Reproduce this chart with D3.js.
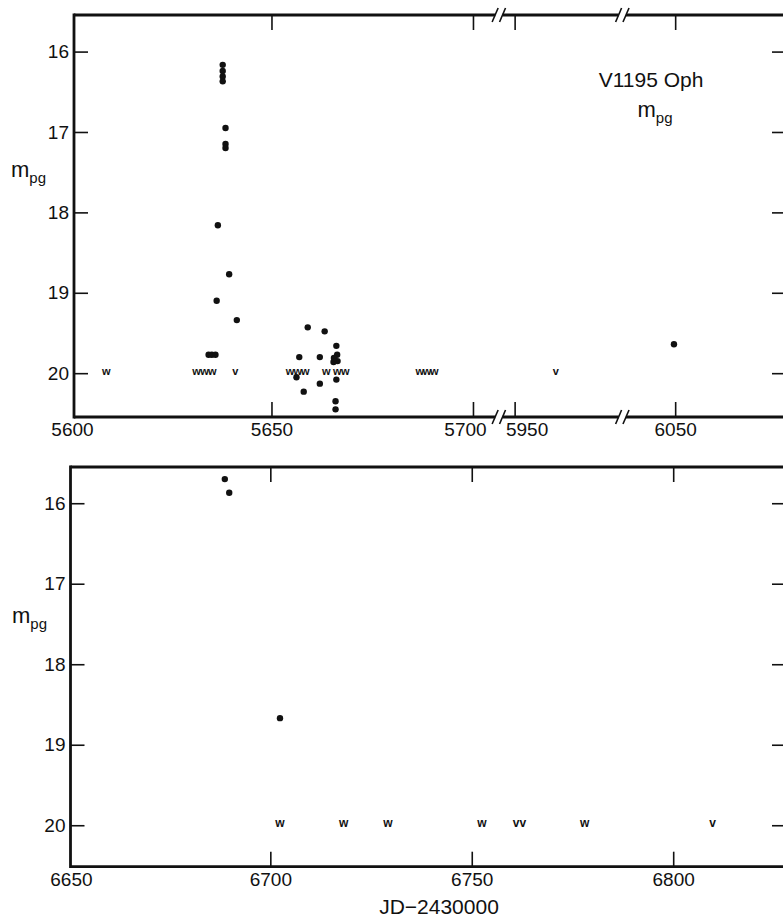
<!DOCTYPE html>
<html>
<head>
<meta charset="utf-8">
<script src="https://cdn.jsdelivr.net/npm/d3@7"></script>
<style>
  body { margin: 0; background: #fff; }
  svg { display: block; }
</style>
</head>
<body>
<div class="chart"></div>
<script>
// ---------------------------//
//       DATA                 //
// ---------------------------//

// upper panel: JD-2430000 broken into three pieces
const topSegments = [[5601, 5705.5], [5947, 5975.8], [6037.8, 6077.5]];
const topTicks = [5600, 5650, 5700, 5950, 6050];

// detections (filled dots)
const topDotJD = [5637.9, 5637.9, 5637.9, 5637.9, 5638.6, 5638.6, 5638.6,
  5636.7, 5639.5, 5636.4, 5641.4, 5634.4, 5635.2, 5636.1,
  5659.0, 5663.2, 5666.1, 5656.9, 5662.0, 5666.3, 5665.5, 5666.4, 5665.4,
  5656.2, 5662.0, 5658.0, 5666.1, 5665.9, 5665.9, 6049.7];
const topDotMag = [16.165, 16.24, 16.31, 16.37, 16.95, 17.15, 17.2,
  18.16, 18.77, 19.1, 19.34, 19.77, 19.77, 19.77,
  19.43, 19.48, 19.66, 19.8, 19.8, 19.77, 19.81, 19.85, 19.86,
  20.05, 20.13, 20.23, 20.08, 20.35, 20.45, 19.64];

// fainter-than plates (symbols)
const topLimJD = [5609.0, 5631.4, 5633.4, 5635.3, 5641.0,
  5654.6, 5656.5, 5658.4, 5663.6, 5666.3, 5668.3,
  5686.8, 5688.6, 5690.4, 5960.2];
const topLimSym = ["w", "w", "w", "w", "v",
  "w", "w", "w", "w", "w", "w",
  "w", "w", "w", "v"];
const topLimMag = [20, 20, 20, 20, 20, 20, 20, 20, 20, 20, 20, 20, 20, 20, 20];

// lower panel
const botDomain = [6650.4, 6828];
const botTicks = [6650, 6700, 6750, 6800];
const botDotJD = [6688.7, 6689.8, 6702.4];
const botDotMag = [15.7, 15.87, 18.67];
const botLimJD = [6702.4, 6718.2, 6729.2, 6752.5, 6761.0, 6762.7, 6778.0, 6809.8];
const botLimSym = ["w", "w", "w", "w", "v", "v", "w", "v"];
const botLimMag = [20, 20, 20, 20, 20, 20, 20, 20];

const magTicks = [16, 17, 18, 19, 20];

// ---------------------------//
//       SETUP                //
// ---------------------------//
const W = 783, H = 919;
const font = "'Liberation Sans', Arial, Helvetica, sans-serif";
const ink = "#111";

var svg = d3.select(".chart").append("svg")
  .attr("width", W).attr("height", H)
  .style("font-family", font);

const P1 = { left: 74, right: 786, top: 15, bottom: 417 };
const P2 = { left: 70.5, right: 786, top: 467, bottom: 866.7 };

// broken x scale for top panel (same px-per-day in every piece)
const gap = 7.4;
const k = 4.03;
var dom = [], rng = [];
var cursor = P1.left;
topSegments.forEach((s, i) => {
  if (i) cursor += gap;
  dom.push(s[0], s[1]);
  rng.push(cursor, cursor + (s[1] - s[0]) * k);
  cursor += (s[1] - s[0]) * k;
});
var x1 = d3.scaleLinear().domain(dom).range(rng);
var y1 = d3.scaleLinear().domain([15.545, 20.545]).range([P1.top, P1.bottom]);

var x2 = d3.scaleLinear().domain(botDomain).range([P2.left, P2.right]);
var y2 = d3.scaleLinear().domain([15.55, 20.515]).range([P2.top, P2.bottom]);

const fmt = d3.format("d");

// ---------------------------//
//       AXES                 //
// ---------------------------//
function styleAxis(g) {
  g.select(".domain").remove();
  g.attr("font-family", font).attr("font-size", 19);
  g.selectAll("line").attr("stroke", ink).attr("stroke-width", 1.6);
  g.selectAll("text").attr("fill", ink);
}

function drawPanel(P, x, y, ticks, firstTick, pieces) {
  // bottom ticks + labels
  var gb = svg.append("g")
    .attr("transform", "translate(0," + P.bottom + ")")
    .call(d3.axisBottom(x).tickValues(ticks).tickFormat(fmt).tickSize(-15).tickPadding(6))
    .call(styleAxis);
  gb.selectAll(".tick").filter(d => d === firstTick).select("line").remove();
  gb.selectAll(".tick text").attr("dx", d => d === 5700 ? -8 : d === 5950 ? 12 : d === firstTick ? 2 : 0);

  // top ticks
  svg.append("g")
    .attr("transform", "translate(0," + P.top + ")")
    .call(d3.axisTop(x).tickValues(ticks.filter(d => d !== firstTick)).tickSize(-15).tickFormat(""))
    .call(styleAxis);

  // left ticks + labels
  svg.append("g")
    .attr("transform", "translate(" + P.left + ",0)")
    .call(d3.axisLeft(y).tickValues(magTicks).tickFormat(fmt).tickSize(-14).tickPadding(5))
    .call(styleAxis);

  // right ticks
  svg.append("g")
    .attr("transform", "translate(" + P.right + ",0)")
    .call(d3.axisRight(y).tickValues(magTicks).tickSize(-14).tickFormat(""))
    .call(styleAxis);

  // frame: left edge plus top/bottom pieces
  var frame = svg.append("g").attr("stroke", ink).attr("stroke-width", 2.8).attr("fill", "none");
  frame.append("line")
    .attr("x1", P.left).attr("x2", P.left)
    .attr("y1", P.top - 1.4).attr("y2", P.bottom + 1.4);
  pieces.forEach(seg => {
    [P.top, P.bottom].forEach(yy => {
      frame.append("line")
        .attr("x1", seg[0]).attr("x2", seg[1])
        .attr("y1", yy).attr("y2", yy);
    });
  });
  // break marks "//"
  pieces.forEach((seg, i) => {
    [seg[0], seg[1]].forEach((xx, j) => {
      if ((i === 0 && j === 0) || (i === pieces.length - 1 && j === 1)) return;
      [P.top, P.bottom].forEach(yy => {
        svg.append("line")
          .attr("x1", xx - 3).attr("y1", yy + 7)
          .attr("x2", xx + 3).attr("y2", yy - 7)
          .attr("stroke", ink).attr("stroke-width", 1.6);
      });
    });
  });
}

var topPieces = [];
for (var i = 0; i < rng.length; i += 2) topPieces.push([rng[i], rng[i + 1]]);
drawPanel(P1, x1, y1, topTicks, 5600, topPieces);
drawPanel(P2, x2, y2, botTicks, 6650, [[P2.left, P2.right]]);

// ---------------------------//
//       POINTS               //
// ---------------------------//
function drawPoints(x, y, jd, mag, limJD, limSym, limMag, symSize) {
  svg.append("g").selectAll("circle")
    .data(jd.map((d, i) => ({ jd: d, mag: mag[i] })))
    .enter().append("circle")
    .attr("cx", d => x(d.jd))
    .attr("cy", d => y(d.mag))
    .attr("r", 3.2)
    .attr("fill", ink);

  svg.append("g").selectAll("text")
    .data(limJD.map((d, i) => ({ jd: d, sym: limSym[i], mag: limMag[i] })))
    .enter().append("text")
    .attr("x", d => x(d.jd))
    .attr("y", d => y(d.mag) + 1.5)
    .attr("text-anchor", "middle")
    .attr("font-weight", "bold")
    .attr("font-size", symSize)
    .attr("fill", ink)
    .text(d => d.sym);
}

drawPoints(x1, y1, topDotJD, topDotMag, topLimJD, topLimSym, topLimMag, 11);
drawPoints(x2, y2, botDotJD, botDotMag, botLimJD, botLimSym, botLimMag, 12);

// ---------------------------//
//       LABELS               //
// ---------------------------//
function mpg(xx, yy, anchor) {
  var t = svg.append("text")
    .attr("x", xx).attr("y", yy)
    .attr("text-anchor", anchor || "start")
    .attr("fill", ink)
    .attr("font-size", 22);
  t.append("tspan").text("m");
  t.append("tspan").attr("dy", 6).attr("font-size", 15).text("pg");
}

mpg(11, 177);
mpg(12, 623);

svg.append("text")
  .attr("x", 651).attr("y", 87)
  .attr("text-anchor", "middle")
  .attr("font-size", 21)
  .attr("fill", ink)
  .text("V1195 Oph");
mpg(655, 117, "middle");

svg.append("text")
  .attr("x", 439).attr("y", 914)
  .attr("text-anchor", "middle")
  .attr("font-size", 21)
  .attr("fill", ink)
  .text("JD\u22122430000");
</script>
</body>
</html>
